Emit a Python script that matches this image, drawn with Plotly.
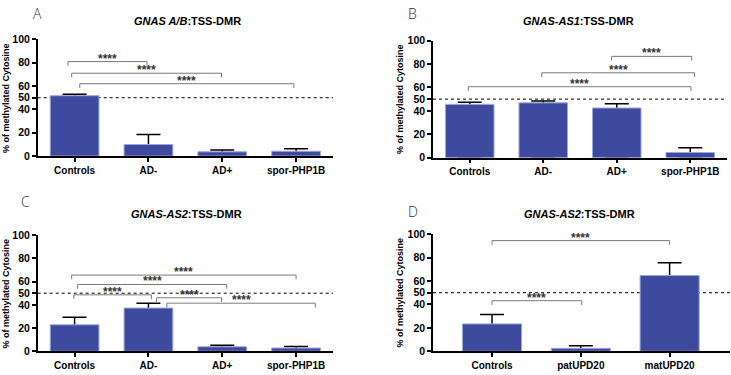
import plotly.graph_objects as go

W, H = 731, 375

# ---------------- data ----------------
groups_abc = ["Controls", "AD-", "AD+", "spor-PHP1B"]
groups_d = ["Controls", "patUPD20", "matUPD20"]

mean_a = [51.7, 9.9, 3.6, 4.1]
sd_a = [1.2, 8.6, 1.6, 2.2]
mean_b = [45.5, 46.8, 42.4, 4.4]
sd_b = [1.9, 1.7, 3.6, 4.1]
mean_c = [22.8, 37.2, 3.9, 2.8]
sd_c = [6.4, 4.2, 1.4, 1.4]
mean_d = [23.4, 2.5, 64.7]
sd_d = [8.0, 2.2, 10.8]

titles = ["<b><i>GNAS A/B</i>:TSS-DMR</b>", "<b><i>GNAS-AS1</i>:TSS-DMR</b>",
          "<b><i>GNAS-AS2</i>:TSS-DMR</b>", "<b><i>GNAS-AS2</i>:TSS-DMR</b>"]
letters = ["A", "B", "C", "D"]
y_ticks = [0, 20, 40, 50, 60, 80, 100]
reference_level = 50
stars = "****"

# significance comparisons: (from group, to group, bracket height)
cmp_a = [(-0.09, 0.98, 81), (-0.04, 1.99, 71), (0.07, 2.97, 62)]
cmp_b = [(1.93, 3.02, 86.5), (0.98, 3.06, 72.5), (-0.02, 3.01, 60.6)]
cmp_c = [(-0.04, 3.0, 65.6), (0.04, 2.06, 57.5), (-0.01, 1.04, 48.6),
         (1.11, 1.99, 46.1), (1.25, 3.26, 41.4)]
cmp_d = [(0.0, 2.0, 94.5), (0.0, 1.01, 43.2)]

# ---------------- layout (pixels) ----------------
FONT = "Liberation Sans, Arial, sans-serif"
BAR = "#3d4a9e"
EDGE = "#9aa6dd"


def px_x(p):
    return p / W


def px_y(p):
    return 1 - p / H


panels = [
    dict(cats=groups_abc, mean=mean_a, sd=sd_a, cmp=cmp_a,
         xd=(37.7, 333), yd=(155, 34.5), xr=(-0.5, 3.5), bw=0.66,
         title=(187, 15), letter=(37, 8), ytitle=(6, 95)),
    dict(cats=groups_abc, mean=mean_b, sd=sd_b, cmp=cmp_b,
         xd=(433, 727), yd=(156.7, 35.7), xr=(-0.5, 3.5), bw=0.66,
         title=(578, 15), letter=(412, 8), ytitle=(400, 96)),
    dict(cats=groups_abc, mean=mean_c, sd=sd_c, cmp=cmp_c,
         xd=(37.7, 333), yd=(356.7, 236.7), xr=(-0.5, 3.5), bw=0.66,
         title=(186, 215), letter=(25, 202), ytitle=(6, 297)),
    dict(cats=groups_d, mean=mean_d, sd=sd_d, cmp=cmp_d,
         xd=(433, 730), yd=(356.7, 235.7), xr=(-0.665, 2.68), bw=0.665,
         title=(579, 215), letter=(413, 212), ytitle=(400, 296)),
]

fig = go.Figure()
shapes = []
annotations = []
layout_axes = {}

for i, p in enumerate(panels):
    n = i + 1
    xa = "x" if n == 1 else f"x{n}"
    ya = "y" if n == 1 else f"y{n}"
    xs = list(range(len(p["cats"])))
    # invisible bars carrying error bars (upper part shown, lower hidden by real bars)
    fig.add_trace(go.Bar(
        x=xs, y=p["mean"], width=p["bw"], xaxis=xa, yaxis=ya,
        marker=dict(color="rgba(0,0,0,0)", line=dict(width=0)),
        error_y=dict(type="data", symmetric=False, array=p["sd"],
                     arrayminus=p["mean"], color="black", thickness=1.5,
                     width=12),
        showlegend=False, hoverinfo="skip"))
    fig.add_trace(go.Bar(
        x=xs, y=p["mean"], width=p["bw"], xaxis=xa, yaxis=ya,
        marker=dict(color=BAR, line=dict(color=EDGE, width=1)),
        showlegend=False))

    axis_common = dict(showgrid=False, zeroline=False, showline=True,
                       linecolor="black", linewidth=1.5, ticks="outside",
                       ticklen=4, tickwidth=1.5, tickcolor="black",
                       tickfont=dict(family=FONT, size=10, color="black",
                                     weight="bold"))
    layout_axes["xaxis" if n == 1 else f"xaxis{n}"] = dict(
        axis_common, domain=[px_x(p["xd"][0]), px_x(p["xd"][1])],
        range=list(p["xr"]), anchor=ya, tickmode="array", tickvals=xs,
        ticktext=p["cats"], fixedrange=True)
    layout_axes["yaxis" if n == 1 else f"yaxis{n}"] = dict(
        axis_common, domain=[px_y(p["yd"][0]), px_y(p["yd"][1])],
        range=[0, 100], anchor=xa, tickmode="array", tickvals=y_ticks,
        tickfont=dict(family=FONT, size=10.5, color="black", weight="bold"),
        fixedrange=True)

    # dotted 50% line
    shapes.append(dict(type="line", xref=f"{xa} domain", yref=ya,
                       x0=0, x1=1, y0=reference_level, y1=reference_level,
                       line=dict(color="black", width=1, dash="dot"),
                       layer="below"))
    # brackets
    for (a, b, h) in p["cmp"]:
        drop = 3.6
        shapes.append(dict(type="path", xref=xa, yref=ya,
                           path=f"M {a},{h - drop} L {a},{h} L {b},{h} L {b},{h - drop}",
                           line=dict(color="#7a7a7a", width=1)))
        annotations.append(dict(x=(a + b) / 2, y=h, xref=xa, yref=ya,
                                text=f"<b>{stars}</b>", showarrow=False,
                                yanchor="middle", yshift=3,
                                font=dict(family=FONT, size=12, color="#333")))
    # title
    annotations.append(dict(x=px_x(p["title"][0]), y=px_y(p["title"][1]),
                            xref="paper", yref="paper", text=titles[i],
                            showarrow=False, xanchor="center", yanchor="middle",
                            font=dict(family=FONT, size=11, color="black")))
    # panel letter
    annotations.append(dict(x=px_x(p["letter"][0]), y=px_y(p["letter"][1]),
                            xref="paper", yref="paper", text=letters[i],
                            showarrow=False, xanchor="center", yanchor="middle",
                            font=dict(family="Open Sans", size=14, color="#333",
                                      weight=300)))
    # y-axis title
    annotations.append(dict(x=px_x(p["ytitle"][0]), y=px_y(p["ytitle"][1]),
                            xref="paper", yref="paper",
                            text="<b>% of methylated Cytosine</b>",
                            showarrow=False, textangle=-90,
                            xanchor="center", yanchor="middle",
                            font=dict(family=FONT, size=9, color="black")))

fig.update_layout(
    width=W, height=H, margin=dict(l=0, r=0, t=0, b=0),
    paper_bgcolor="white", plot_bgcolor="white", barmode="overlay",
    shapes=shapes, annotations=annotations, **layout_axes)

fig.write_html("out.html",
               config={"displayModeBar": False},
               post_script="document.body.style.margin='0';"
                           "document.body.style.overflow='hidden';")
